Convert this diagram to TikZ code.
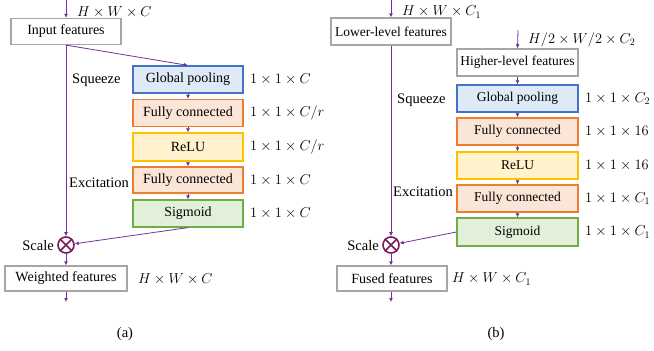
\documentclass[tikz,border=0pt]{standalone}
\usepackage{fontspec}
\setmainfont{Liberation Serif}
\newfontfamily\tnr{Liberation Serif}
\usetikzlibrary{arrows.meta}
\definecolor{pur}{HTML}{7030A0}
\definecolor{circc}{HTML}{7B1A5E}
\definecolor{bluB}{HTML}{4472C4}\definecolor{bluF}{HTML}{DEEBF7}
\definecolor{orB}{HTML}{ED7D31}\definecolor{orF}{HTML}{FBE5D6}
\definecolor{yeB}{HTML}{FFC000}\definecolor{yeF}{HTML}{FFF2CC}
\definecolor{grB}{HTML}{70AD47}\definecolor{grF}{HTML}{E2F0D9}
\definecolor{gyB}{HTML}{A6A6A6}
\begin{document}
\begin{tikzpicture}[x=1pt,y=-1pt,
  box/.style={draw,line width=1.2pt,minimum width=110pt,minimum height=27pt,inner sep=0pt,font=\tnr\fontsize{14}{16}\selectfont},
  plain/.style={box,draw=gyB,fill=white},
  bgp/.style={box,draw=bluB,fill=bluF},
  bfc/.style={box,draw=orB,fill=orF},
  brelu/.style={box,draw=yeB,fill=yeF},
  bsig/.style={box,draw=grB,fill=grF},
  lab/.style={inner sep=0pt,font=\tnr\fontsize{14.5}{17}\selectfont},
  dim/.style={inner sep=0pt,anchor=west,font=\fontsize{14.5}{17}\selectfont},
  con/.style={draw=pur,line width=0.8pt},
  arr/.style={con,-{Latex[length=4pt,width=4pt]}},
  mul/.style={circle,draw=circc,line width=1.6pt,minimum size=16pt,inner sep=0pt}]
\useasboundingbox (0,0) rectangle (654,351);
% ---------- (a)
\coordinate (atop) at (66,0);
\node[plain,minimum width=110pt,minimum height=26pt] (ainp) at (66,31.5) {Input features};
\node[bgp] (agp) at (188,79.5) {Global pooling};
\node[bfc] (afc1) at (188,113) {Fully connected};
\node[brelu,minimum height=28pt] (arelu) at (188,147) {ReLU};
\node[bfc,minimum height=26pt] (afc2) at (188,180) {Fully connected};
\node[bsig] (asig) at (188,213.5) {Sigmoid};
\node[mul] (amul) at (66,245) {};
\draw[draw=circc,line width=1.6pt] (amul.north west) -- (amul.south east) (amul.north east) -- (amul.south west);
\node[plain,minimum width=122pt,minimum height=25pt] (awf) at (66,278.5) {Weighted features};
\coordinate (aout) at (66,302);
\draw[arr] (atop) -- (ainp.north);
\draw[arr] (ainp.south) -- (agp.north);
\draw[arr] (ainp.south) -- (amul.north);
\draw[arr] (agp) -- (afc1);
\draw[arr] (afc1) -- (arelu);
\draw[arr] (arelu) -- (afc2);
\draw[arr] (afc2) -- (asig);
\draw[arr] (asig.south) -- (amul);
\draw[arr] (amul) -- (awf);
\draw[arr] (awf) -- (aout);
\node[dim] (at1) at (77,12) {$H\times W\times C$};
\node[dim] (ad1) at (250,79.5) {$1\times 1\times C$};
\node[dim] (ad2) at (250,113) {$1\times 1\times C/r$};
\node[dim] (ad3) at (250,147) {$1\times 1\times C/r$};
\node[dim] (ad4) at (250,180) {$1\times 1\times C$};
\node[dim] (ad5) at (250,213.5) {$1\times 1\times C$};
\node[dim] (ad6) at (138,279) {$H\times W\times C$};
\node[lab,anchor=west] (asq) at (72,80) {Squeeze};
\node[lab,anchor=west] (aex) at (69,183) {Excitation};
\node[lab,anchor=east] (asc) at (54,246) {Scale};
\node[lab] (acap) at (125,334) {(a)};
% ---------- (b)
\coordinate (btop) at (391,0);
\node[plain,minimum width=120pt,font=\tnr\fontsize{13.5}{16}\selectfont] (blow) at (391,31.5) {Lower-level features};
\coordinate (bhtop) at (518,30);
\node[plain,minimum width=121pt,font=\tnr\fontsize{13.5}{16}\selectfont] (bhi) at (517.5,62.5) {Higher-level features};
\node[bgp,minimum width=121pt,font=\tnr\fontsize{13.5}{16}\selectfont] (bgp) at (517.5,98.5) {Global pooling};
\node[bfc,minimum width=121pt,font=\tnr\fontsize{13.5}{16}\selectfont] (bfc1) at (517.5,131.5) {Fully connected};
\node[brelu,minimum width=121pt,font=\tnr\fontsize{13.5}{16}\selectfont] (brelu) at (517.5,165.5) {ReLU};
\node[bfc,minimum width=121pt,font=\tnr\fontsize{13.5}{16}\selectfont] (bfc2) at (517.5,198.5) {Fully connected};
\node[bsig,minimum width=121pt,minimum height=28pt,font=\tnr\fontsize{13.5}{16}\selectfont] (bsig) at (517.5,232) {Sigmoid};
\node[mul] (bmul) at (391,245) {};
\draw[draw=circc,line width=1.6pt] (bmul.north west) -- (bmul.south east) (bmul.north east) -- (bmul.south west);
\node[plain,minimum width=110pt,minimum height=25pt] (bfu) at (392,278.5) {Fused features};
\coordinate (bout) at (391,302);
\draw[arr] (btop) -- (blow.north);
\draw[arr] (blow.south) -- (bmul.north);
\draw[arr] (bhtop) -- (bhi.north);
\draw[arr] (bhi) -- (bgp);
\draw[arr] (bgp) -- (bfc1);
\draw[arr] (bfc1) -- (brelu);
\draw[arr] (brelu) -- (bfc2);
\draw[arr] (bfc2) -- (bsig);
\draw[arr] (bsig.west) -- (bmul);
\draw[arr] (bmul) -- (bfu.north -| bmul);
\draw[arr] (bfu.south -| bout) -- (bout);
\node[dim] (bt1) at (402,12) {$H\times W\times C_1$};
\node[dim] (bt2) at (528,40) {$H/2\times W/2\times C_2$};
\node[dim] (bd1) at (585,98.5) {$1\times 1\times C_2$};
\node[dim] (bd2) at (585,131.5) {$1\times 1\times 16$};
\node[dim] (bd3) at (585,165.5) {$1\times 1\times 16$};
\node[dim] (bd4) at (585,198.5) {$1\times 1\times C_1$};
\node[dim] (bd5) at (585,232) {$1\times 1\times C_1$};
\node[dim] (bd6) at (452,279) {$H\times W\times C_1$};
\node[lab,anchor=west] (bsq) at (397,100) {Squeeze};
\node[lab,anchor=west] (bex) at (393,192) {Excitation};
\node[lab,anchor=east] (bsc) at (379,246) {Scale};
\node[lab] (bcap) at (496,334) {(b)};
\end{tikzpicture}
\end{document}
